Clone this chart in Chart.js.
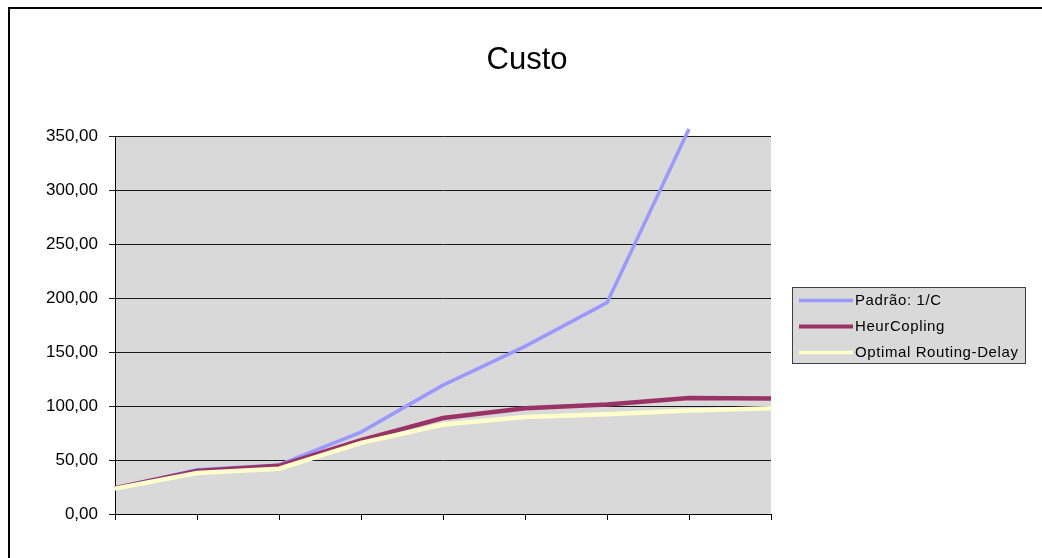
<!DOCTYPE html>
<html>
<head>
<meta charset="utf-8">
<script src="https://cdn.jsdelivr.net/npm/chart.js@4/dist/chart.umd.min.js"></script>
<style>
  html, body { margin: 0; padding: 0; background: #ffffff; }
  #wrap { width: 1042px; height: 558px; position: relative; }
</style>
</head>
<body>
<div id="wrap"><canvas id="c" width="1042" height="558"></canvas></div>
<script>
// Categories (unlabelled steps along the horizontal axis)
const categories = ['1', '2', '3', '4', '5', '6', '7', '8', '9'];

// Series values
const padrao   = [24, 41, 45.5, 76, 119.5, 155.5, 196, 357, null];
const heur     = [24, 40, 44.7, 68.5, 89, 98, 101.5, 107.5, 107];
const optimal  = [23.5, 38, 42, 66, 83, 90, 92.5, 96, 98];

// Series names
const seriesNames = ['Padrão: 1/C', 'HeurCopling', 'Optimal Routing-Delay'];

// Vertical axis range and step
const yMin = 0, yMax = 350, yStep = 50;

const colors = ['#9999ff', '#993366', '#ffffcc'];
const widths = [3.5, 4.5, 4.5];

// Gray plot background and the outer frame
const frameAndPlot = {
  id: 'frameAndPlot',
  beforeDraw(chart) {
    const { ctx, chartArea: a } = chart;
    ctx.save();
    ctx.fillStyle = '#ffffff';
    ctx.fillRect(0, 0, chart.width, chart.height);
    ctx.fillStyle = '#d9d9d9';
    ctx.fillRect(a.left, a.top, a.right - a.left, a.bottom - a.top);
    ctx.fillStyle = '#000000';
    ctx.fillRect(8, 7, 2, chart.height - 7);
    ctx.fillRect(8, 7, chart.width - 8, 2);
    ctx.restore();
  }
};

// Boxed legend to the right of the plot
const boxedLegend = {
  id: 'boxedLegend',
  afterDraw(chart) {
    const { ctx } = chart;
    const x = 792, y = 287, w = 234, h = 77;
    ctx.save();
    ctx.fillStyle = '#d9d9d9';
    ctx.fillRect(x, y, w, h);
    ctx.strokeStyle = '#404040';
    ctx.lineWidth = 1;
    ctx.strokeRect(x + 0.5, y + 0.5, w - 1, h - 1);
    ctx.font = '15px "Liberation Sans", Arial, sans-serif';
    ctx.letterSpacing = '0.6px';
    ctx.textBaseline = 'middle';
    ctx.textAlign = 'left';
    chart.data.datasets.forEach((ds, i) => {
      const ry = y + 13.5 + i * 26;
      ctx.strokeStyle = ds.borderColor;
      ctx.lineWidth = i === 1 ? 4 : 3.5;
      ctx.lineCap = 'butt';
      ctx.beginPath();
      ctx.moveTo(799, ry);
      ctx.lineTo(853, ry);
      ctx.stroke();
      ctx.fillStyle = '#000000';
      ctx.fillText(ds.label, 855, ry + 0.5);
    });
    ctx.restore();
  }
};

const seriesData = [padrao, heur, optimal];

new Chart(document.getElementById('c'), {
  type: 'line',
  data: {
    labels: categories,
    datasets: seriesData.map((d, i) => ({
      label: seriesNames[i],
      data: d,
      borderColor: colors[i],
      backgroundColor: colors[i],
      borderWidth: widths[i],
      pointRadius: 0,
      pointHoverRadius: 0,
      tension: 0,
      spanGaps: false,
      clip: false,
      order: 3 - i
    }))
  },
  options: {
    responsive: false,
    animation: false,
    events: [],
    layout: { padding: { left: 12, right: 0, top: 0, bottom: 38 } },
    plugins: {
      legend: { display: false },
      tooltip: { enabled: false },
      title: {
        display: true,
        text: 'Custo',
        color: '#000000',
        font: { family: '"Liberation Sans", Arial, sans-serif', size: 31, weight: 'normal', lineHeight: 1.2 },
        padding: { top: 42, bottom: 57.4 },
        fullSize: true
      }
    },
    scales: {
      x: {
        type: 'category',
        offset: false,
        grid: { display: true, drawOnChartArea: false, drawTicks: true, tickLength: 6, color: '#000000', lineWidth: 1 },
        border: { display: true, color: '#000000', width: 1 },
        ticks: { display: false },
        afterFit(s) { s.height = 6; }
      },
      y: {
        type: 'linear',
        position: 'left',
        min: yMin,
        max: yMax,
        grid: { color: '#1a1a1a', lineWidth: 1, drawTicks: true, tickLength: 6 },
        border: { display: true, color: '#000000', width: 1 },
        ticks: {
          stepSize: yStep,
          color: '#000000',
          padding: 11,
          font: { family: '"Liberation Sans", Arial, sans-serif', size: 17 },
          callback: v => v.toFixed(2).replace('.', ',')
        },
        afterFit(s) { s.width = 103; }
      },
      side: {
        type: 'linear',
        position: 'right',
        display: true,
        grid: { display: false, drawTicks: false },
        border: { display: false },
        ticks: { display: false },
        afterFit(s) { s.width = 271; }
      }
    }
  },
  plugins: [frameAndPlot, boxedLegend]
});
</script>
</body>
</html>
